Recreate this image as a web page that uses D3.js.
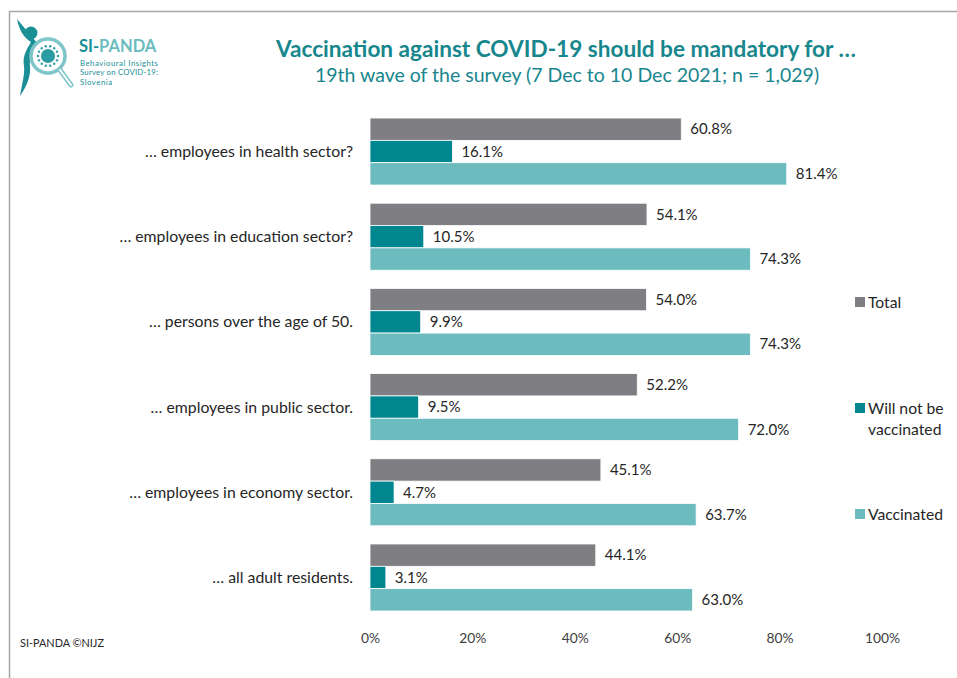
<!DOCTYPE html>
<html>
<head>
<meta charset="utf-8">
<script src="https://cdn.jsdelivr.net/npm/d3@7"></script>
<style>
  html, body { margin: 0; padding: 0; background: #fff; }
  svg { display: block; font-family: Lato, "Open Sans", sans-serif; }
</style>
</head>
<body>
<svg id="chart" width="957" height="678"></svg>
<script>
// Survey questions (categories), top to bottom
const categories = [
  "… employees in health sector?",
  "… employees in education sector?",
  "… persons over the age of 50.",
  "… employees in public sector.",
  "… employees in economy sector.",
  "… all adult residents."
];
// Series names, in bar order within each group
const seriesNames = ["Total", "Will not be vaccinated", "Vaccinated"];
// Percentages per series
const totalValues       = [60.8, 54.1, 54.0, 52.2, 45.1, 44.1];
const notVaccValues     = [16.1, 10.5, 9.9, 9.5, 4.7, 3.1];
const vaccinatedValues  = [81.4, 74.3, 74.3, 72.0, 63.7, 63.0];
// Axis ticks
const tickValues = [0, 20, 40, 60, 80, 100];

const colors = { "Total": "#7f7f83", "Will not be vaccinated": "#00868f", "Vaccinated": "#6cbbbf" };
const seriesValues = [totalValues, notVaccValues, vaccinatedValues];

const svg = d3.select("#chart");

// Frame lines (top and left)
svg.append("path")
  .attr("d", "M9.5,678 V11.5 H957")
  .attr("fill", "none").attr("stroke", "#a6a6a6").attr("stroke-width", 1.5);

// ---- Logo ----
const logo = svg.append("g").attr("class", "logo");
logo.append("circle").attr("cx", 31).attr("cy", 33).attr("r", 6.5).attr("fill", "#1a8f96");
logo.append("path")
  .attr("d", "M17,19 C19,29 23,37 31,42 C27,49 22,56 24,66 C25,74 22,84 20,96 C27,86 31,76 30,66 C29,58 33,50 38,44 Z")
  .attr("fill", "#1a8f96");
logo.append("circle").attr("cx", 48).attr("cy", 56).attr("r", 17)
  .attr("fill", "#fff").attr("stroke", "#7dc5c8").attr("stroke-width", 3.5);
logo.append("line").attr("x1", 60).attr("y1", 70).attr("x2", 71).attr("y2", 85)
  .attr("stroke", "#7dc5c8").attr("stroke-width", 5).attr("stroke-linecap", "round");
logo.append("line").attr("x1", 60).attr("y1", 70).attr("x2", 71).attr("y2", 85)
  .attr("stroke", "#fff").attr("stroke-width", 2).attr("stroke-linecap", "round");
logo.append("circle").attr("cx", 48).attr("cy", 56).attr("r", 7).attr("fill", "#2a9ca2");
const spikes = d3.range(14).map(i => i * 2 * Math.PI / 14);
logo.selectAll("circle.spike").data(spikes).join("circle")
  .attr("class", "spike")
  .attr("cx", a => 48 + 10 * Math.cos(a)).attr("cy", a => 56 + 10 * Math.sin(a))
  .attr("r", 1.2).attr("fill", "#2a9ca2");
logo.append("text").attr("x", 79).attr("y", 52)
  .attr("font-size", 16.5).attr("font-weight", 700).attr("fill", "#1a8f96")
  .text("SI-")
  .append("tspan").attr("fill", "#6cbbbf").text("PANDA");
const logoLines = [
  { text: "Behavioural Insights", len: 78 },
  { text: "Survey on COVID-19:", len: 78 },
  { text: "Slovenia", len: 32 }
];
logoLines.forEach((l, i) => {
  logo.append("text").attr("x", 80).attr("y", 65.5 + i * 9.6)
    .attr("font-size", 7.8)
    .attr("textLength", l.len).attr("lengthAdjust", "spacing")
    .attr("fill", "#1a8f96").text(l.text);
});

// ---- Titles ----
svg.append("text").attr("x", 566).attr("y", 57).attr("text-anchor", "middle")
  .attr("font-size", 22.6).attr("font-weight", 700).attr("fill", "#17868d")
  .text("Vaccination against COVID-19 should be mandatory for …");
svg.append("text").attr("x", 567).attr("y", 82).attr("text-anchor", "middle")
  .attr("font-size", 19.5).attr("fill", "#17868d")
  .text("19th wave of the survey (7 Dec to 10 Dec 2021; n = 1,029)");

// ---- Scales ----
const x = d3.scaleLinear().domain([0, 100]).range([370, 882]);
const y = d3.scaleBand().domain(categories).range([108.9, 620.1]).paddingInner(0.2135).paddingOuter(0.107);
const ySub = d3.scaleBand().domain(seriesNames).range([0, y.bandwidth()]);

// ---- Bars ----
const rows = categories.map((c, i) => ({
  category: c,
  values: seriesNames.map((s, j) => ({ series: s, value: seriesValues[j][i] }))
}));

const groups = svg.append("g").selectAll("g").data(rows).join("g")
  .attr("transform", d => `translate(0,${y(d.category)})`);

groups.selectAll("rect").data(d => d.values).join("rect")
  .attr("x", x(0))
  .attr("y", d => ySub(d.series))
  .attr("width", d => x(d.value) - x(0))
  .attr("height", ySub.bandwidth())
  .attr("fill", d => colors[d.series])
  .attr("stroke", "#fff").attr("stroke-width", 0.8);

groups.selectAll("text.val").data(d => d.values).join("text")
  .attr("class", "val")
  .attr("x", d => x(d.value) + 9)
  .attr("y", d => ySub(d.series) + ySub.bandwidth() / 2)
  .attr("dy", "0.35em")
  .attr("font-size", 15).attr("fill", "#262626")
  .text(d => d.value.toFixed(1) + "%");

// ---- Category labels ----
svg.append("g").selectAll("text").data(categories).join("text")
  .attr("x", 353)
  .attr("y", d => y(d) + y.bandwidth() / 2)
  .attr("dy", "0.35em")
  .attr("text-anchor", "end")
  .attr("font-size", 15.8).attr("fill", "#262626")
  .text(d => d);

// ---- X axis (labels only) ----
const xAxis = d3.axisBottom(x).tickValues(tickValues).tickFormat(d => d + "%").tickSize(0).tickPadding(0);
const axisG = svg.append("g").attr("transform", "translate(0,633)").call(xAxis);
axisG.select(".domain").remove();
axisG.selectAll("text").attr("font-size", 13.8).attr("fill", "#404040").attr("font-family", "Lato, sans-serif");

// ---- Legend ----
const legendItems = [
  { name: "Total", lines: ["Total"], y: 302 },
  { name: "Will not be vaccinated", lines: ["Will not be", "vaccinated"], y: 408 },
  { name: "Vaccinated", lines: ["Vaccinated"], y: 514 }
];
const leg = svg.append("g").selectAll("g").data(legendItems).join("g")
  .attr("transform", d => `translate(855,${d.y})`);
leg.append("rect").attr("x", 0).attr("y", -5).attr("width", 10).attr("height", 10)
  .attr("fill", d => colors[d.name]);
leg.each(function(d) {
  const t = d3.select(this).append("text").attr("x", 13).attr("y", 0)
    .attr("font-size", 15.7).attr("fill", "#262626");
  d.lines.forEach((l, i) => {
    t.append("tspan").attr("x", 13).attr("dy", i === 0 ? "0.35em" : "1.35em").text(l);
  });
});

// ---- Footer ----
svg.append("text").attr("x", 20).attr("y", 647)
  .attr("font-size", 11).attr("fill", "#262626")
  .attr("textLength", 84).attr("lengthAdjust", "spacingAndGlyphs")
  .text("SI-PANDA ©NIJZ");
</script>
</body>
</html>
